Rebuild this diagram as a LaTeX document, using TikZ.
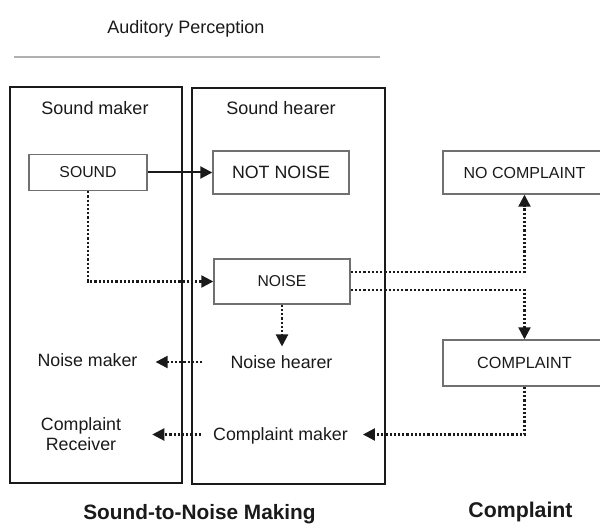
\documentclass[tikz,border=0pt]{standalone}
\usepackage{fontspec}
\setmainfont{Liberation Sans}
\usetikzlibrary{arrows.meta}
\definecolor{ink}{HTML}{1A1A1A}
\definecolor{boxgray}{HTML}{707070}
\definecolor{rulegray}{HTML}{B0B0B0}
\tikzset{
  bigbox/.style={draw=ink, line width=2pt, inner sep=0pt},
  smallbox/.style={draw=boxgray, line width=1.4pt, inner sep=0pt, text=ink},
  lbl/.style={inner sep=0pt, text=ink, font=\fontsize{17.8}{20}\selectfont, text height=12.7pt, text depth=0pt},
  heading/.style={inner sep=0pt, text=ink, font=\bfseries\fontsize{20.8}{24}\selectfont, text height=15pt, text depth=0pt},
  tipstyle/.tip={Triangle[length=12pt,width=12pt]},
  dotarrow/.style={draw=ink, line width=2.2pt, dash pattern=on 2.2pt off 2pt, -tipstyle},
  solidarrow/.style={draw=ink, line width=2pt, -tipstyle},
}
\begin{document}
\begin{tikzpicture}[x=1pt,y=-1pt]
\useasboundingbox (0,0) rectangle (600,524);
\clip (0,0) rectangle (600,524);
\fill[white] (0,0) rectangle (600,524);

% title and rule
\node[lbl, font=\fontsize{18}{20}\selectfont] (title) at (186,27) {Auditory Perception};
\draw[rulegray, line width=1.6pt] (14,57) -- (380,57);

% two big frames
\node[bigbox, minimum width=172pt, minimum height=396pt] (makerframe) at (96,285) {};
\node[bigbox, minimum width=193pt, minimum height=396pt] (hearerframe) at (288,286) {};

\node[lbl, font=\fontsize{18}{20}\selectfont] (smaker) at (95,108) {Sound maker};
\node[lbl, font=\fontsize{18}{20}\selectfont] (shearer) at (281,108) {Sound hearer};

% boxes
\node[smallbox, minimum width=118pt, minimum height=36pt, font=\fontsize{15.8}{18}\selectfont] (sound) at (88,172.5) {SOUND};
\node[smallbox, minimum width=136pt, minimum height=43pt, font=\fontsize{17.8}{20}\selectfont] (notnoise) at (281,172.5) {NOT NOISE};
\node[smallbox, minimum width=136pt, minimum height=45pt, font=\fontsize{15.7}{18}\selectfont] (noise) at (282,281.5) {NOISE};
\node[smallbox, minimum width=163pt, minimum height=43pt, font=\fontsize{16}{18}\selectfont] (nocomp) at (524.5,172.5) {NO COMPLAINT};
\node[smallbox, minimum width=163pt, minimum height=46pt, font=\fontsize{16.2}{18}\selectfont] (comp) at (524.5,363) {COMPLAINT};

% plain labels
\node[lbl] (nmaker) at (87.5,360) {Noise maker};
\node[lbl] (nhearer) at (281.5,362) {Noise hearer};
\node[lbl] (cmaker) at (280.5,434.5) {Complaint maker};
\node[inner sep=0pt, text=ink, align=center, font=\fontsize{17.8}{19.5}\selectfont] (creceiver) at (81,434) {Complaint\\Receiver};

% headings
\node[heading] (h1) at (199.5,512) {Sound-to-Noise Making};
\node[heading, font=\bfseries\fontsize{21.3}{24}\selectfont] (h2) at (520.5,509.5) {Complaint};

% connectors
\draw[solidarrow] (sound.east) -- (notnoise.west);
\draw[dotarrow] (sound.south) |- (noise.west);
\draw[dotarrow] ([yshift=9.5pt]noise.east) -| (nocomp.south);
\draw[dotarrow] ([yshift=-8.5pt]noise.east) -| (comp.north);
\draw[dotarrow, shorten >=9pt] (noise.south) -- (noise.south |- nhearer.north);
\draw[dotarrow, shorten <=28pt, shorten >=18pt] (nhearer.west) -- (nhearer.west -| nmaker.east);
\draw[dotarrow, shorten >=15pt] (comp.south) |- (cmaker.east);
\draw[dotarrow, shorten <=12pt, shorten >=31pt] (cmaker.west) -- (cmaker.west -| creceiver.east);
\end{tikzpicture}
\end{document}
